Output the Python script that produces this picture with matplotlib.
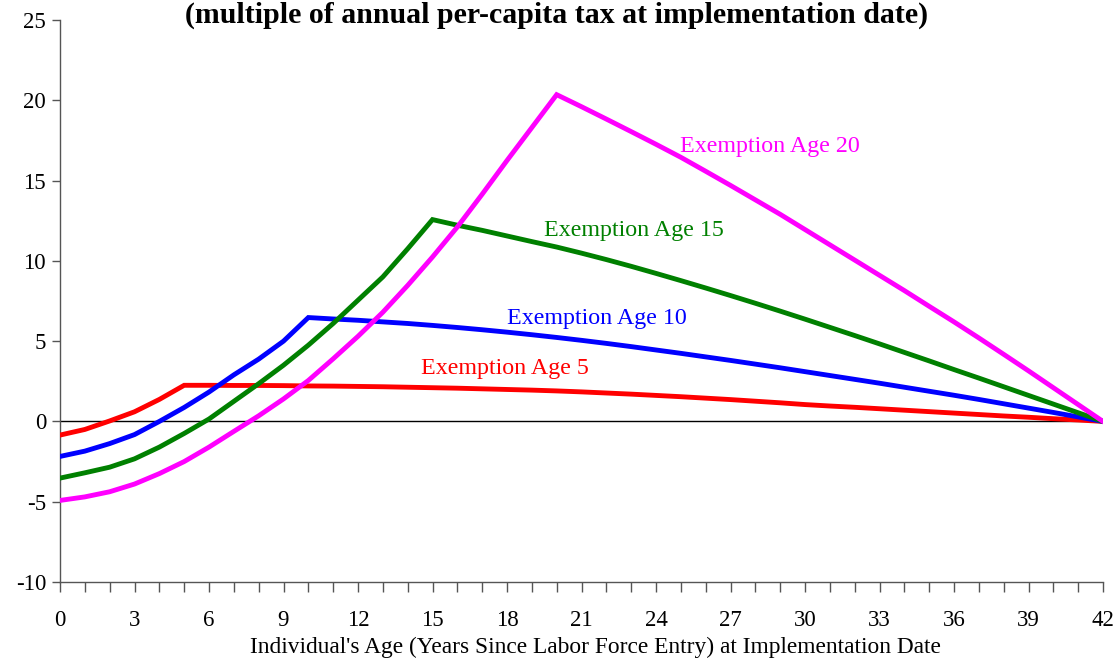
import matplotlib
matplotlib.use("Agg")
import matplotlib.pyplot as plt
from matplotlib.ticker import MultipleLocator

plt.rcParams['font.family'] = ['Liberation Serif', 'DejaVu Serif']
plt.rcParams['axes.unicode_minus'] = False

years = list(range(0, 43))

exempt_5 = [-0.85, -0.5, 0.03, 0.6, 1.37, 2.25, 2.25, 2.24, 2.24, 2.23, 2.21,
            2.2, 2.18, 2.16, 2.13, 2.1, 2.07, 2.03, 1.99, 1.95, 1.9,
            1.84, 1.77, 1.7, 1.62, 1.54, 1.45, 1.36, 1.26, 1.16, 1.05,
            0.96, 0.88, 0.79, 0.7, 0.61, 0.52, 0.43, 0.34, 0.26, 0.17, 0.09, 0.0]

exempt_10 = [-2.18, -1.85, -1.38, -0.82, 0.0, 0.87, 1.83, 2.9, 3.88, 5.0, 6.47,
             6.38, 6.3, 6.2, 6.1, 5.98, 5.85, 5.71, 5.56, 5.4, 5.23,
             5.05, 4.86, 4.66, 4.45, 4.24, 4.02, 3.8, 3.57, 3.34, 3.1,
             2.86, 2.62, 2.38, 2.13, 1.88, 1.63, 1.37, 1.1, 0.83, 0.56, 0.28, 0.0]

exempt_15 = [-3.53, -3.2, -2.85, -2.33, -1.6, -0.75, 0.15, 1.25, 2.35, 3.5, 4.75,
             6.1, 7.55, 9.0, 10.75, 12.57, 12.22, 11.9, 11.55, 11.2, 10.86,
             10.48, 10.08, 9.66, 9.22, 8.77, 8.31, 7.84, 7.36, 6.87, 6.37,
             5.86, 5.35, 4.83, 4.3, 3.77, 3.23, 2.7, 2.16, 1.62, 1.08, 0.54, 0.0]

exempt_20 = [-4.92, -4.7, -4.38, -3.9, -3.25, -2.5, -1.6, -0.62, 0.35, 1.4, 2.55,
             3.9, 5.3, 6.8, 8.47, 10.24, 12.11, 14.15, 16.25, 18.3, 20.35,
             19.6, 18.83, 18.05, 17.26, 16.45, 15.58, 14.7, 13.8, 12.9, 11.95,
             11.0, 10.05, 9.1, 8.15, 7.17, 6.2, 5.2, 4.18, 3.15, 2.1, 1.05, 0.0]

series_labels = ["Exemption Age 5", "Exemption Age 10", "Exemption Age 15", "Exemption Age 20"]
colors = ["#FF0000", "#0000FF", "#008000", "#FF00FF"]
label_pos = [(14.55, 3.3), (18.0, 6.42), (19.5, 11.9), (24.97, 17.13)]

title_text = "(multiple of annual per-capita tax at implementation date)"
xlabel_text = "Individual's Age (Years Since Labor Force Entry) at Implementation Date"

W, H = 1119, 661
fig = plt.figure(figsize=(W / 100, H / 100), dpi=100)
ax = fig.add_axes([60 / W, 1 - 582 / H, (1103 - 60) / W, (582 - 20) / H])

for vals, c in zip([exempt_5, exempt_10, exempt_15, exempt_20], colors):
    ax.plot(years, vals, color=c, lw=3.5, solid_joinstyle='miter', zorder=3)

for (lx, ly), lab, c in zip(label_pos, series_labels, colors):
    ax.text(lx, ly, lab, color=c, fontsize=17.3, ha='left', va='center')

ax.axhline(0, color='black', lw=1.0, zorder=2)

ax.set_xlim(0, 42)
ax.set_ylim(-10, 25)
ax.xaxis.set_major_locator(MultipleLocator(3))
ax.xaxis.set_minor_locator(MultipleLocator(1))
ax.yaxis.set_major_locator(MultipleLocator(5))

for s in ['top', 'right']:
    ax.spines[s].set_visible(False)
for s in ['left', 'bottom']:
    ax.spines[s].set_color('#555555')
    ax.spines[s].set_linewidth(1.0)

ax.tick_params(axis='x', which='both', direction='out', length=7, width=1.0,
               color='#555555', labelsize=16.5, pad=13)
ax.tick_params(axis='y', which='major', direction='out', length=6, width=1.0,
               color='#555555', labelsize=16.5, pad=4)
ax.set_xticks([3 * i for i in range(15)])
ax.set_xticklabels([str(3 * i) for i in range(15)])

fig.text(595 / W, 1 - 647 / H, xlabel_text, fontsize=16.8, ha='center', va='center')
fig.text(557 / W, 1 - 2 / H, title_text, fontsize=21.5, fontweight='bold',
         ha='center', va='top')

fig.savefig("out.png", dpi=100)
